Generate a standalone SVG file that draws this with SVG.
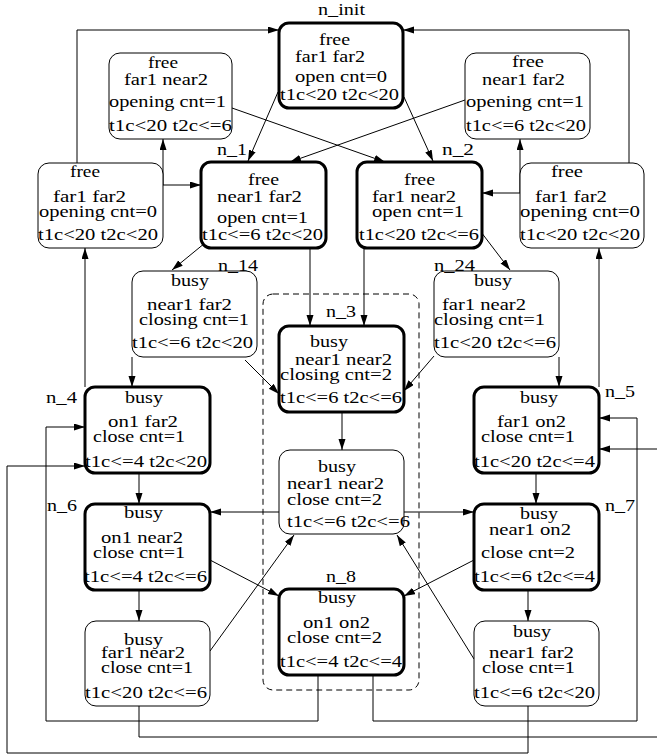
<svg xmlns="http://www.w3.org/2000/svg" width="657" height="756" viewBox="0 0 657 756">
<style>
.bg{fill:#fff}
.thin{fill:#fff;stroke:#000;stroke-width:1}
.thick{fill:#fff;stroke:#000;stroke-width:3}
.t{font-family:"Liberation Serif","Times New Roman",serif;font-size:16px;fill:#000}
.e{fill:none;stroke:#000;stroke-width:1;marker-end:url(#ah)}
.cl{fill:none;stroke:#000;stroke-width:1;stroke-dasharray:6,4}
</style>
<defs>
<marker id="ah" markerUnits="userSpaceOnUse" markerWidth="12" markerHeight="8" refX="11" refY="3.5" orient="auto">
<path d="M0,0 L11,3.5 L0,7 z" fill="#000"/>
</marker>
</defs>
<rect class="bg" x="0" y="0" width="657" height="756"/>
<rect class="cl" x="263" y="294" width="156" height="396" rx="10"/>
<g id="edges">
<path class="e" d="M77,163 V30 H279"/>
<path class="e" d="M629,163 V30 H403"/>
<path class="e" d="M163,185 V139"/>
<path class="e" d="M163,185 H201"/>
<path class="e" d="M520,193 V139"/>
<path class="e" d="M520,193 H482"/>
<path class="e" d="M278,92 L248,161"/>
<path class="e" d="M404,97 L433,161"/>
<path class="e" d="M232,108 L385,162"/>
<path class="e" d="M465,100 L290,162"/>
<path class="e" d="M205,243 L172,270"/>
<path class="e" d="M310,248 V326"/>
<path class="e" d="M364,248 V326"/>
<path class="e" d="M481,232 L510,270"/>
<path class="e" d="M132,357 V387"/>
<path class="e" d="M245,360 L279,394"/>
<path class="e" d="M434,356 L404,391"/>
<path class="e" d="M559,357 V387"/>
<path class="e" d="M85,387 V248"/>
<path class="e" d="M599,387 V248"/>
<path class="e" d="M342,412 V450"/>
<path class="e" d="M139,473 V504"/>
<path class="e" d="M536,473 V504"/>
<path class="e" d="M279,512 H210"/>
<path class="e" d="M404,512 H474"/>
<path class="e" d="M139,590 V621"/>
<path class="e" d="M528,590 V621"/>
<path class="e" d="M210,560 L279,596"/>
<path class="e" d="M474,560 L404,596"/>
<path class="e" d="M210,651 L294,535"/>
<path class="e" d="M474,659 L397,535"/>
<path class="e" d="M318,675 V721 H46 V427 H85"/>
<path class="e" d="M373,675 V721 H637 V418 H599"/>
<path class="e" d="M139,706 V737 H662 V449 H599"/>
<path class="e" d="M528,706 V753 H7 V466 H85"/>
</g>
<g id="n_init">
<rect class="thick" x="279" y="23" width="124" height="85" rx="10"/>
<text class="t" x="318" y="15" textLength="47" lengthAdjust="spacingAndGlyphs">n_init</text>
<text class="t" x="319" y="45" textLength="31" lengthAdjust="spacingAndGlyphs">free</text>
<text class="t" x="295" y="62" textLength="70" lengthAdjust="spacingAndGlyphs">far1 far2</text>
<text class="t" x="295" y="82" textLength="92" lengthAdjust="spacingAndGlyphs">open cnt=0</text>
<text class="t" x="280" y="100" textLength="119" lengthAdjust="spacingAndGlyphs">t1c&lt;20 t2c&lt;20</text>
</g>
<g id="n_tl">
<rect class="thin" x="109" y="53" width="123" height="86" rx="11"/>
<text class="t" x="148" y="68" textLength="30" lengthAdjust="spacingAndGlyphs">free</text>
<text class="t" x="124" y="85" textLength="84" lengthAdjust="spacingAndGlyphs">far1 near2</text>
<text class="t" x="109" y="107" textLength="117" lengthAdjust="spacingAndGlyphs">opening cnt=1</text>
<text class="t" x="109" y="131" textLength="123" lengthAdjust="spacingAndGlyphs">t1c&lt;20 t2c&lt;=6</text>
</g>
<g id="n_tr">
<rect class="thin" x="465" y="53" width="125" height="86" rx="11"/>
<text class="t" x="512" y="67" textLength="32" lengthAdjust="spacingAndGlyphs">free</text>
<text class="t" x="482" y="85" textLength="83" lengthAdjust="spacingAndGlyphs">near1 far2</text>
<text class="t" x="466" y="107" textLength="118" lengthAdjust="spacingAndGlyphs">opening cnt=1</text>
<text class="t" x="466" y="131" textLength="120" lengthAdjust="spacingAndGlyphs">t1c&lt;=6 t2c&lt;20</text>
</g>
<g id="n_lf">
<rect class="thin" x="38" y="163" width="125" height="85" rx="11"/>
<text class="t" x="70" y="177" textLength="30" lengthAdjust="spacingAndGlyphs">free</text>
<text class="t" x="53" y="202" textLength="73" lengthAdjust="spacingAndGlyphs">far1 far2</text>
<text class="t" x="39" y="217" textLength="118" lengthAdjust="spacingAndGlyphs">opening cnt=0</text>
<text class="t" x="38" y="240" textLength="120" lengthAdjust="spacingAndGlyphs">t1c&lt;20 t2c&lt;20</text>
</g>
<g id="n_1">
<rect class="thick" x="201" y="162" width="125" height="86" rx="10"/>
<text class="t" x="217" y="155" textLength="30" lengthAdjust="spacingAndGlyphs">n_1</text>
<text class="t" x="248" y="185" textLength="31" lengthAdjust="spacingAndGlyphs">free</text>
<text class="t" x="217" y="202" textLength="85" lengthAdjust="spacingAndGlyphs">near1 far2</text>
<text class="t" x="217" y="223" textLength="91" lengthAdjust="spacingAndGlyphs">open cnt=1</text>
<text class="t" x="202" y="240" textLength="121" lengthAdjust="spacingAndGlyphs">t1c&lt;=6 t2c&lt;20</text>
</g>
<g id="n_2">
<rect class="thick" x="357" y="162" width="125" height="86" rx="10"/>
<text class="t" x="442" y="155" textLength="32" lengthAdjust="spacingAndGlyphs">n_2</text>
<text class="t" x="404" y="185" textLength="31" lengthAdjust="spacingAndGlyphs">free</text>
<text class="t" x="372" y="202" textLength="84" lengthAdjust="spacingAndGlyphs">far1 near2</text>
<text class="t" x="372" y="217" textLength="92" lengthAdjust="spacingAndGlyphs">open cnt=1</text>
<text class="t" x="359" y="240" textLength="120" lengthAdjust="spacingAndGlyphs">t1c&lt;20 t2c&lt;=6</text>
</g>
<g id="n_rf">
<rect class="thin" x="520" y="163" width="124" height="85" rx="11"/>
<text class="t" x="551" y="177" textLength="32" lengthAdjust="spacingAndGlyphs">free</text>
<text class="t" x="535" y="202" textLength="72" lengthAdjust="spacingAndGlyphs">far1 far2</text>
<text class="t" x="520" y="217" textLength="120" lengthAdjust="spacingAndGlyphs">opening cnt=0</text>
<text class="t" x="520" y="240" textLength="120" lengthAdjust="spacingAndGlyphs">t1c&lt;20 t2c&lt;20</text>
</g>
<g id="n_14">
<rect class="thin" x="132" y="271" width="125" height="86" rx="11"/>
<text class="t" x="218" y="271" textLength="40" lengthAdjust="spacingAndGlyphs">n_14</text>
<text class="t" x="171" y="286" textLength="38" lengthAdjust="spacingAndGlyphs">busy</text>
<text class="t" x="147" y="310" textLength="85" lengthAdjust="spacingAndGlyphs">near1 far2</text>
<text class="t" x="139" y="325" textLength="110" lengthAdjust="spacingAndGlyphs">closing cnt=1</text>
<text class="t" x="132" y="348" textLength="121" lengthAdjust="spacingAndGlyphs">t1c&lt;=6 t2c&lt;20</text>
</g>
<g id="n_24">
<rect class="thin" x="434" y="271" width="125" height="86" rx="11"/>
<text class="t" x="434" y="271" textLength="41" lengthAdjust="spacingAndGlyphs">n_24</text>
<text class="t" x="474" y="286" textLength="38" lengthAdjust="spacingAndGlyphs">busy</text>
<text class="t" x="442" y="310" textLength="84" lengthAdjust="spacingAndGlyphs">far1 near2</text>
<text class="t" x="434" y="325" textLength="111" lengthAdjust="spacingAndGlyphs">closing cnt=1</text>
<text class="t" x="434" y="348" textLength="122" lengthAdjust="spacingAndGlyphs">t1c&lt;20 t2c&lt;=6</text>
</g>
<g id="n_3">
<rect class="thick" x="279" y="326" width="125" height="86" rx="10"/>
<text class="t" x="326" y="317" textLength="30" lengthAdjust="spacingAndGlyphs">n_3</text>
<text class="t" x="310" y="347" textLength="38" lengthAdjust="spacingAndGlyphs">busy</text>
<text class="t" x="295" y="365" textLength="97" lengthAdjust="spacingAndGlyphs">near1 near2</text>
<text class="t" x="280" y="380" textLength="112" lengthAdjust="spacingAndGlyphs">closing cnt=2</text>
<text class="t" x="280" y="403" textLength="122" lengthAdjust="spacingAndGlyphs">t1c&lt;=6 t2c&lt;=6</text>
</g>
<g id="n_mid">
<rect class="thin" x="279" y="450" width="125" height="84" rx="11"/>
<text class="t" x="318" y="472" textLength="38" lengthAdjust="spacingAndGlyphs">busy</text>
<text class="t" x="287" y="489" textLength="97" lengthAdjust="spacingAndGlyphs">near1 near2</text>
<text class="t" x="287" y="505" textLength="95" lengthAdjust="spacingAndGlyphs">close cnt=2</text>
<text class="t" x="287" y="527" textLength="123" lengthAdjust="spacingAndGlyphs">t1c&lt;=6 t2c&lt;=6</text>
</g>
<g id="n_4">
<rect class="thick" x="85" y="387" width="125" height="86" rx="10"/>
<text class="t" x="46" y="403" textLength="31" lengthAdjust="spacingAndGlyphs">n_4</text>
<text class="t" x="125" y="403" textLength="38" lengthAdjust="spacingAndGlyphs">busy</text>
<text class="t" x="108" y="427" textLength="70" lengthAdjust="spacingAndGlyphs">on1 far2</text>
<text class="t" x="93" y="442" textLength="92" lengthAdjust="spacingAndGlyphs">close cnt=1</text>
<text class="t" x="85" y="467" textLength="122" lengthAdjust="spacingAndGlyphs">t1c&lt;=4 t2c&lt;20</text>
</g>
<g id="n_5">
<rect class="thick" x="474" y="387" width="125" height="86" rx="10"/>
<text class="t" x="605" y="397" textLength="30" lengthAdjust="spacingAndGlyphs">n_5</text>
<text class="t" x="520" y="403" textLength="38" lengthAdjust="spacingAndGlyphs">busy</text>
<text class="t" x="497" y="427" textLength="69" lengthAdjust="spacingAndGlyphs">far1 on2</text>
<text class="t" x="481" y="442" textLength="94" lengthAdjust="spacingAndGlyphs">close cnt=1</text>
<text class="t" x="474" y="467" textLength="121" lengthAdjust="spacingAndGlyphs">t1c&lt;20 t2c&lt;=4</text>
</g>
<g id="n_6">
<rect class="thick" x="85" y="504" width="125" height="86" rx="10"/>
<text class="t" x="47" y="511" textLength="30" lengthAdjust="spacingAndGlyphs">n_6</text>
<text class="t" x="124" y="518" textLength="39" lengthAdjust="spacingAndGlyphs">busy</text>
<text class="t" x="101" y="543" textLength="82" lengthAdjust="spacingAndGlyphs">on1 near2</text>
<text class="t" x="93" y="558" textLength="92" lengthAdjust="spacingAndGlyphs">close cnt=1</text>
<text class="t" x="84" y="582" textLength="123" lengthAdjust="spacingAndGlyphs">t1c&lt;=4 t2c&lt;=6</text>
</g>
<g id="n_7">
<rect class="thick" x="474" y="504" width="125" height="86" rx="10"/>
<text class="t" x="605" y="511" textLength="30" lengthAdjust="spacingAndGlyphs">n_7</text>
<text class="t" x="520" y="519" textLength="38" lengthAdjust="spacingAndGlyphs">busy</text>
<text class="t" x="489" y="535" textLength="82" lengthAdjust="spacingAndGlyphs">near1 on2</text>
<text class="t" x="481" y="558" textLength="94" lengthAdjust="spacingAndGlyphs">close cnt=2</text>
<text class="t" x="474" y="582" textLength="121" lengthAdjust="spacingAndGlyphs">t1c&lt;=6 t2c&lt;=4</text>
</g>
<g id="n_8">
<rect class="thick" x="279" y="589" width="125" height="86" rx="10"/>
<text class="t" x="326" y="582" textLength="30" lengthAdjust="spacingAndGlyphs">n_8</text>
<text class="t" x="318" y="603" textLength="38" lengthAdjust="spacingAndGlyphs">busy</text>
<text class="t" x="303" y="628" textLength="67" lengthAdjust="spacingAndGlyphs">on1 on2</text>
<text class="t" x="287" y="643" textLength="95" lengthAdjust="spacingAndGlyphs">close cnt=2</text>
<text class="t" x="280" y="667" textLength="122" lengthAdjust="spacingAndGlyphs">t1c&lt;=4 t2c&lt;=4</text>
</g>
<g id="n_bl">
<rect class="thin" x="85" y="621" width="125" height="85" rx="11"/>
<text class="t" x="124" y="645" textLength="39" lengthAdjust="spacingAndGlyphs">busy</text>
<text class="t" x="101" y="658" textLength="84" lengthAdjust="spacingAndGlyphs">far1 near2</text>
<text class="t" x="101" y="673" textLength="92" lengthAdjust="spacingAndGlyphs">close cnt=1</text>
<text class="t" x="85" y="698" textLength="122" lengthAdjust="spacingAndGlyphs">t1c&lt;20 t2c&lt;=6</text>
</g>
<g id="n_br">
<rect class="thin" x="474" y="621" width="125" height="85" rx="11"/>
<text class="t" x="513" y="637" textLength="38" lengthAdjust="spacingAndGlyphs">busy</text>
<text class="t" x="489" y="658" textLength="85" lengthAdjust="spacingAndGlyphs">near1 far2</text>
<text class="t" x="482" y="673" textLength="93" lengthAdjust="spacingAndGlyphs">close cnt=1</text>
<text class="t" x="474" y="698" textLength="121" lengthAdjust="spacingAndGlyphs">t1c&lt;=6 t2c&lt;20</text>
</g>
</svg>
